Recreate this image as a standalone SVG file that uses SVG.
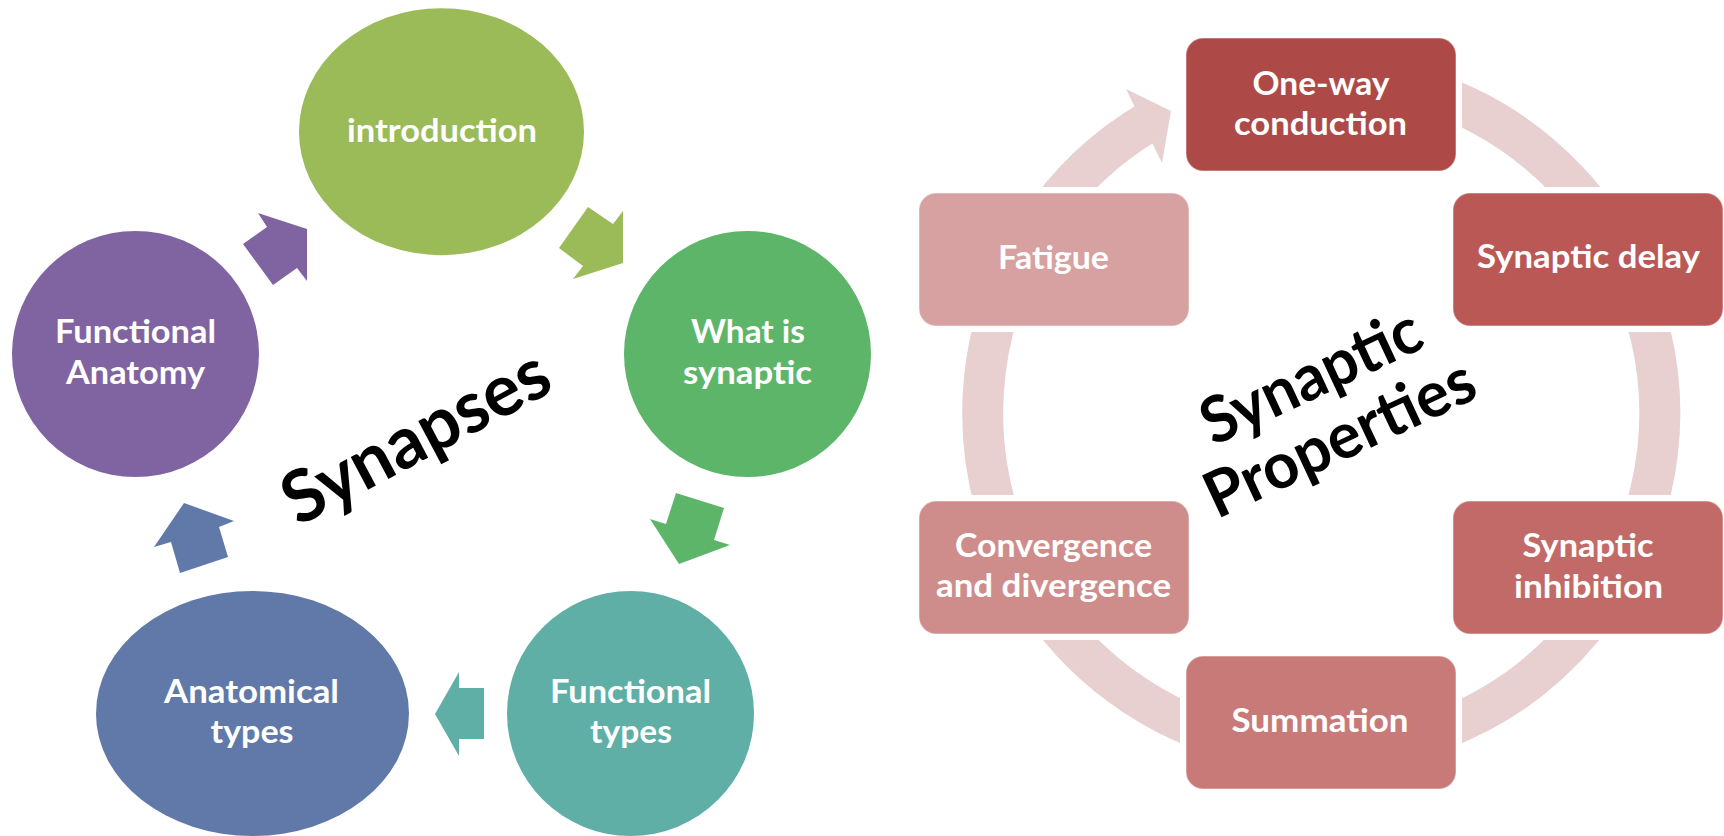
<svg xmlns="http://www.w3.org/2000/svg" width="1724" height="836" viewBox="0 0 1724 836">
  <style>
    .lbl { font-family: Lato, "Open Sans", "Liberation Sans", sans-serif; font-weight: 700; font-size: 33px; fill: #ffffff; text-anchor: middle; }
    .title { font-family: Lato, "Open Sans", "Liberation Sans", sans-serif; font-weight: 700; fill: #000000; text-anchor: middle; }
    .halo { fill: #ffffff; }
    .box { stroke: #ffffff; stroke-opacity: 0.35; stroke-width: 1.5; }
  </style>
  <rect width="1724" height="836" fill="#ffffff"/>

  <!-- ===== Left cycle: Synapses ===== -->
  <g id="left-connectors">
    <polygon fill="#8064A2" points="258,213 307,229 307,281 297,268 273,285 243,244 267,227"/>
    <polygon fill="#9BBB59" points="588,207 613,224 623,211 623,263 573,279 583,266 559,248"/>
    <polygon fill="#5DB56A" points="676,493 724,508 714,540 730,545 679,564 650,519 666,524"/>
    <polygon fill="#5FAFA6" points="459,672 459,688 484,688 484,739 459,739 459,756 435,714"/>
    <polygon fill="#6179A9" points="184,503 234,521 219,527 228,557 180,573 171,542 154,547"/>
  </g>

  <g id="node-introduction">
    <ellipse cx="441.5" cy="131.7" rx="142.5" ry="123.5" fill="#9BBB59"/>
    <text class="lbl" x="442" y="142" textLength="190" lengthAdjust="spacingAndGlyphs">introduction</text>
  </g>
  <g id="node-what-is-synaptic">
    <ellipse cx="747.5" cy="354" rx="123.5" ry="123" fill="#5DB56A"/>
    <text class="lbl" x="748" y="343" textLength="114" lengthAdjust="spacingAndGlyphs">What is</text>
    <text class="lbl" x="747.5" y="384" textLength="129" lengthAdjust="spacingAndGlyphs">synaptic</text>
  </g>
  <g id="node-functional-types">
    <ellipse cx="630.5" cy="713.5" rx="123.5" ry="122.5" fill="#5FAFA6"/>
    <text class="lbl" x="630.5" y="703" textLength="161" lengthAdjust="spacingAndGlyphs">Functional</text>
    <text class="lbl" x="631" y="743" textLength="82" lengthAdjust="spacingAndGlyphs">types</text>
  </g>
  <g id="node-anatomical-types">
    <ellipse cx="252.5" cy="713.5" rx="156.5" ry="122.5" fill="#6179A9"/>
    <text class="lbl" x="251.5" y="703" textLength="175" lengthAdjust="spacingAndGlyphs">Anatomical</text>
    <text class="lbl" x="252" y="743" textLength="83" lengthAdjust="spacingAndGlyphs">types</text>
  </g>
  <g id="node-functional-anatomy">
    <ellipse cx="135.5" cy="354" rx="123.5" ry="123" fill="#8064A2"/>
    <text class="lbl" x="135.5" y="343" textLength="161" lengthAdjust="spacingAndGlyphs">Functional</text>
    <text class="lbl" x="135.5" y="384" textLength="139" lengthAdjust="spacingAndGlyphs">Anatomy</text>
  </g>

  <g id="title-synapses" transform="translate(416,437) rotate(-28)">
    <text class="title" x="0" y="24" font-size="72" textLength="292" lengthAdjust="spacingAndGlyphs">Synapses</text>
  </g>

  <!-- ===== Right cycle: Synaptic Properties ===== -->
  <g id="right-connectors">
    <!-- ring around the six boxes, open just before the arrowhead -->
    <path d="M1151.75,119.9 A338.5,338.5 0 1 0 1262.2,79.6" fill="none" stroke="#E8D0D1" stroke-width="41"/>
    <polygon fill="#E8D0D1" points="1126,89 1171,111 1162,163"/>
  </g>

  <g id="node-one-way">
    <rect class="halo" x="1180" y="32" width="282" height="145" rx="23"/>
    <rect class="box" x="1186" y="38" width="270" height="133" rx="17" fill="#AD4A47"/>
    <text class="lbl" x="1321" y="95" textLength="137" lengthAdjust="spacingAndGlyphs">One-way</text>
    <text class="lbl" x="1320.5" y="135" textLength="173" lengthAdjust="spacingAndGlyphs">conduction</text>
  </g>
  <g id="node-synaptic-delay">
    <rect class="halo" x="1447" y="187" width="282" height="145" rx="23"/>
    <rect class="box" x="1453" y="193" width="270" height="133" rx="17" fill="#BA5856"/>
    <text class="lbl" x="1588.5" y="268" textLength="223" lengthAdjust="spacingAndGlyphs">Synaptic delay</text>
  </g>
  <g id="node-synaptic-inhibition">
    <rect class="halo" x="1447" y="495" width="282" height="145" rx="23"/>
    <rect class="box" x="1453" y="501" width="270" height="133" rx="17" fill="#C26A68"/>
    <text class="lbl" x="1588" y="557" textLength="131" lengthAdjust="spacingAndGlyphs">Synaptic</text>
    <text class="lbl" x="1588.5" y="598" textLength="149" lengthAdjust="spacingAndGlyphs">inhibition</text>
  </g>
  <g id="node-summation">
    <rect class="halo" x="1180" y="650" width="282" height="145" rx="23"/>
    <rect class="box" x="1186" y="656" width="270" height="133" rx="17" fill="#C87A78"/>
    <text class="lbl" x="1320" y="732" textLength="177" lengthAdjust="spacingAndGlyphs">Summation</text>
  </g>
  <g id="node-convergence">
    <rect class="halo" x="913" y="495" width="282" height="145" rx="23"/>
    <rect class="box" x="919" y="501" width="270" height="133" rx="17" fill="#CE8D8B"/>
    <text class="lbl" x="1053.5" y="557" textLength="197" lengthAdjust="spacingAndGlyphs">Convergence</text>
    <text class="lbl" x="1053.5" y="597" textLength="235" lengthAdjust="spacingAndGlyphs">and divergence</text>
  </g>
  <g id="node-fatigue">
    <rect class="halo" x="913" y="187" width="282" height="145" rx="23"/>
    <rect class="box" x="919" y="193" width="270" height="133" rx="17" fill="#D6A1A0"/>
    <text class="lbl" x="1053.5" y="269" textLength="111" lengthAdjust="spacingAndGlyphs">Fatigue</text>
  </g>

  <g id="title-synaptic-properties" transform="translate(1326,409) rotate(-25)">
    <text class="title" x="0" y="-14" font-size="64" textLength="236" lengthAdjust="spacingAndGlyphs">Synaptic</text>
    <text class="title" x="0" y="54" font-size="64" textLength="291" lengthAdjust="spacingAndGlyphs">Properties</text>
  </g>
</svg>
